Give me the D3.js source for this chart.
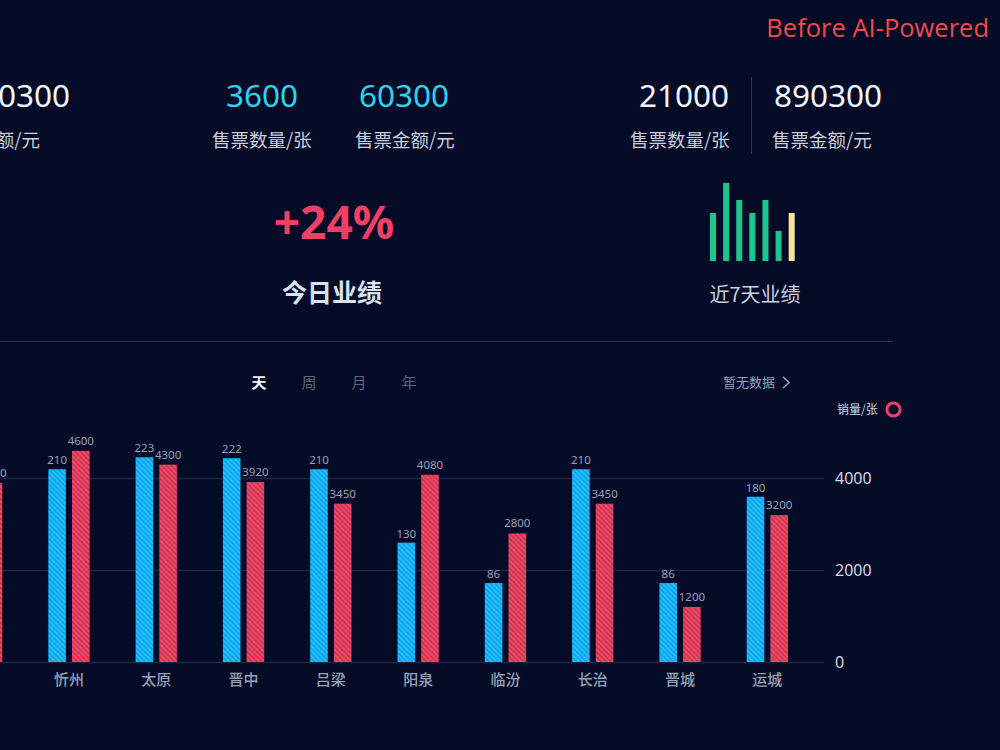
<!DOCTYPE html>
<html>
<head>
<meta charset="utf-8">
<script src="https://cdn.jsdelivr.net/npm/d3@7"></script>
<style>
  html, body { margin: 0; padding: 0; background: #030b27; }
  svg { display: block; font-family: "Noto Sans", "Noto Sans CJK SC", sans-serif; }
</style>
</head>
<body>
<svg id="chart" width="1000" height="750"></svg>
<script>
// data
const categories = ["朔州", "忻州", "太原", "晋中", "吕梁", "阳泉", "临汾", "长治", "晋城", "运城"];
const ticketCounts = [200, 210, 223, 222, 210, 130, 86, 210, 86, 180];
const ticketAmounts = [3900, 4600, 4300, 3920, 3450, 4080, 2800, 3450, 1200, 3200];
const yTicks = [0, 2000, 4000];
const periodTabs = ["天", "周", "月", "年"];
const sevenDays = [48, 78, 61, 48, 61, 30, 48];
const summaryValues = ["890300", "3600", "60300", "21000", "890300"];
const summaryLabels = ["售票金额/元", "售票数量/张", "售票金额/元", "售票数量/张", "售票金额/元"];

const svg = d3.select("#chart");

svg.append("rect").attr("width", 1000).attr("height", 750).attr("fill", "#030b27");

// hatch patterns
const defs = svg.append("defs");
function hatch(id, base, stripe) {
  const p = defs.append("pattern")
    .attr("id", id)
    .attr("patternUnits", "userSpaceOnUse")
    .attr("width", 3.5).attr("height", 3.5)
    .attr("patternTransform", "rotate(-45)");
  p.append("rect").attr("width", 3.5).attr("height", 3.5).attr("fill", base);
  p.append("rect").attr("width", 1.3).attr("height", 3.5).attr("fill", stripe);
}
hatch("hatchBlue", "#1dbcfa", "#119fe2");
hatch("hatchRed", "#ec4664", "#c8364f");

// ---- top summary ----
const head = svg.append("g");
const numCols = [
  { x: 70, anchor: "end", color: "#f2f4f8" },
  { x: 262, anchor: "middle", color: "#2fd3ee" },
  { x: 404, anchor: "middle", color: "#2fd3ee" },
  { x: 684, anchor: "middle", color: "#f2f4f8" },
  { x: 828, anchor: "middle", color: "#f2f4f8" }
];
const labelX = [40, 262, 405, 680, 822];

head.selectAll(".num")
  .data(summaryValues)
  .enter().append("text")
  .attr("x", (d, i) => numCols[i].x)
  .attr("y", 107)
  .attr("text-anchor", (d, i) => numCols[i].anchor)
  .attr("fill", (d, i) => numCols[i].color)
  .attr("font-size", 31.5)
  .text(d => d);

head.selectAll(".lbl")
  .data(summaryLabels)
  .enter().append("text")
  .attr("x", (d, i) => labelX[i])
  .attr("y", 147)
  .attr("text-anchor", (d, i) => i === 0 ? "end" : "middle")
  .attr("fill", "#c9ceda")
  .attr("font-size", 18.5)
  .attr("font-family", "'Noto Sans CJK SC', sans-serif")
  .text(d => d);

head.append("line")
  .attr("x1", 751.5).attr("x2", 751.5)
  .attr("y1", 77).attr("y2", 154)
  .attr("stroke", "#2a3451");

head.append("text")
  .attr("x", 334).attr("y", 239)
  .attr("text-anchor", "middle")
  .attr("fill", "#ef3f66")
  .attr("font-size", 46)
  .attr("font-weight", "bold")
  .text("+24%");

head.append("text")
  .attr("x", 332).attr("y", 302)
  .attr("text-anchor", "middle")
  .attr("fill", "#d9e1f3")
  .attr("font-size", 25)
  .attr("font-weight", "bold")
  .attr("font-family", "'Noto Sans CJK SC', sans-serif")
  .text("今日业绩");

// mini 7-day bars
const mx = d3.scaleBand().domain(d3.range(sevenDays.length)).range([710, 794.7]).paddingInner(0.54);
const my = d3.scaleLinear().domain([0, 80]).range([261, 181]);
head.selectAll(".mini")
  .data(sevenDays)
  .enter().append("rect")
  .attr("x", (d, i) => mx(i))
  .attr("y", d => my(d))
  .attr("width", mx.bandwidth())
  .attr("height", d => my(0) - my(d))
  .attr("fill", (d, i) => i === sevenDays.length - 1 ? "#f8e49c" : "#1ec58c");

head.append("text")
  .attr("x", 755).attr("y", 302)
  .attr("text-anchor", "middle")
  .attr("fill", "#c9d1e3")
  .attr("font-size", 20)
  .attr("font-family", "'Noto Sans CJK SC', sans-serif")
  .text("近7天业绩");

svg.append("line")
  .attr("x1", 0).attr("x2", 893)
  .attr("y1", 341.5).attr("y2", 341.5)
  .attr("stroke", "#2a3451");

// ---- tabs / legend ----
const tabX = d3.scalePoint().domain(periodTabs).range([259, 409]);
svg.selectAll(".tab")
  .data(periodTabs)
  .enter().append("text")
  .attr("x", d => tabX(d))
  .attr("y", 388)
  .attr("text-anchor", "middle")
  .attr("font-size", 15)
  .attr("font-weight", (d, i) => i === 0 ? "bold" : "normal")
  .attr("fill", (d, i) => i === 0 ? "#eef1f7" : "#5b647b")
  .attr("font-family", "'Noto Sans CJK SC', sans-serif")
  .text(d => d);

svg.append("text")
  .attr("x", 723).attr("y", 387)
  .attr("fill", "#98a0b4")
  .attr("font-size", 13)
  .attr("font-family", "'Noto Sans CJK SC', sans-serif")
  .text("暂无数据");
svg.append("path")
  .attr("d", "M783,377 L789,382.5 L783,388")
  .attr("fill", "none")
  .attr("stroke", "#98a0b4")
  .attr("stroke-width", 1.6);

svg.append("text")
  .attr("x", 837).attr("y", 414)
  .attr("fill", "#d0d6e2")
  .attr("font-size", 12)
  .attr("font-family", "'Noto Sans CJK SC', sans-serif")
  .text("销量/张");
svg.append("circle")
  .attr("cx", 893.5).attr("cy", 409.5).attr("r", 6.6)
  .attr("fill", "none")
  .attr("stroke", "#ef3f66")
  .attr("stroke-width", 3);

// ---- bar chart ----
const x = d3.scaleBand().domain(categories).range([-75, 824]).paddingOuter(0.149).paddingInner(0);
const x1 = d3.scaleBand().domain(["count", "amount"]).range([0, 41.3]).paddingInner(0.257);
const y = d3.scaleLinear().domain([0, 5000]).range([662, 432.5]);
const yCount = d3.scaleLinear().domain([0, 250]).range([662, 432.5]);

const chart = svg.append("g");

chart.selectAll(".grid")
  .data(yTicks)
  .enter().append("line")
  .attr("x1", 0).attr("x2", 824)
  .attr("y1", d => Math.round(y(d)) + 0.5)
  .attr("y2", d => Math.round(y(d)) + 0.5)
  .attr("stroke", "#1c2541")
  .attr("stroke-width", 1.5);

const yAxis = chart.append("g")
  .attr("transform", "translate(835,0)")
  .call(d3.axisRight(y).tickValues(yTicks).tickSize(0).tickPadding(0).tickFormat(d3.format("d")));
yAxis.select(".domain").remove();
yAxis.selectAll("text")
  .attr("fill", "#d3d8e2")
  .attr("font-size", 16)
  .attr("font-family", "'Noto Sans', sans-serif");

const xAxis = chart.append("g")
  .attr("transform", "translate(0,662)")
  .call(d3.axisBottom(x).tickSize(0).tickPadding(12));
xAxis.select(".domain").remove();
xAxis.selectAll("text")
  .attr("fill", "#97a0b5")
  .attr("font-size", 15)
  .attr("font-weight", 500)
  .attr("font-family", "'Noto Sans CJK SC', sans-serif");

const rows = categories.map((c, i) => ({ cat: c, count: ticketCounts[i], amount: ticketAmounts[i] }));
const groupX = d => x(d.cat) + x.bandwidth() / 2 - 20.65;

const groups = chart.selectAll(".grp")
  .data(rows)
  .enter().append("g")
  .attr("transform", d => `translate(${groupX(d)},0)`);

groups.append("rect")
  .attr("x", x1("count"))
  .attr("y", d => yCount(d.count))
  .attr("width", x1.bandwidth())
  .attr("height", d => yCount(0) - yCount(d.count))
  .attr("fill", "url(#hatchBlue)");

groups.append("rect")
  .attr("x", x1("amount"))
  .attr("y", d => y(d.amount))
  .attr("width", x1.bandwidth())
  .attr("height", d => y(0) - y(d.amount))
  .attr("fill", "url(#hatchRed)");

groups.append("text")
  .attr("x", x1("count") + x1.bandwidth() / 2)
  .attr("y", d => yCount(d.count) - 5)
  .attr("text-anchor", "middle")
  .attr("fill", "#98a1b6")
  .attr("font-size", 11.5)
  .text(d => d.count);

groups.append("text")
  .attr("x", x1("amount") + x1.bandwidth() / 2)
  .attr("y", d => y(d.amount) - 6)
  .attr("text-anchor", "middle")
  .attr("fill", "#98a1b6")
  .attr("font-size", 11.5)
  .text(d => d.amount);

// badge
svg.append("text")
  .attr("x", 989).attr("y", 37)
  .attr("text-anchor", "end")
  .attr("fill", "#f04a4a")
  .attr("font-size", 25.5)
  .attr("font-family", "'Open Sans', 'Noto Sans', sans-serif")
  .text("Before AI-Powered");
</script>
</body>
</html>
